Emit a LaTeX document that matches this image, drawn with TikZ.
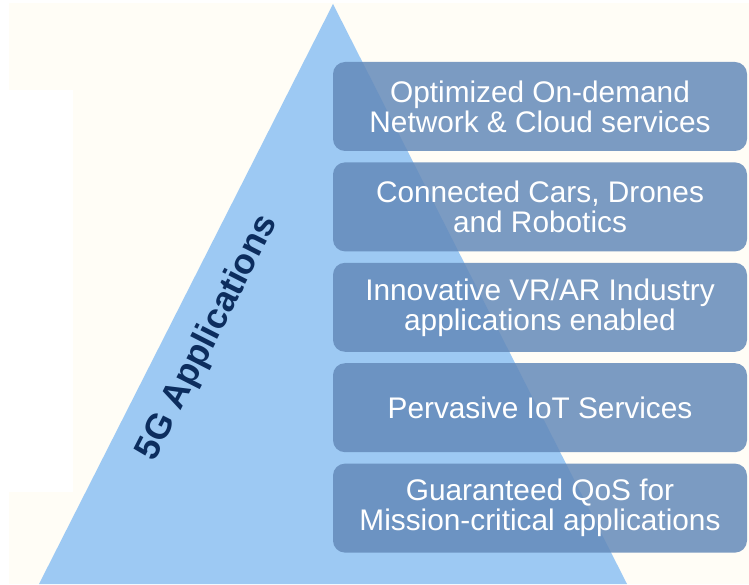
\documentclass[tikz,border=0pt]{standalone}
\usepackage{fontspec}
\setmainfont{Liberation Sans}
\usetikzlibrary{positioning}

\definecolor{paper}{RGB}{255,253,246}
\definecolor{pyramid}{RGB}{157,201,243}
\definecolor{tierblue}{RGB}{100,138,186}
\definecolor{navy}{RGB}{12,45,94}

\tikzset{
    appbox/.style = {fill=tierblue, fill opacity=0.85, text opacity=1,
        text=white, rounded corners=12pt, minimum width=414pt,
        minimum height=89pt, inner sep=0pt, align=center,
        font=\fontsize{29.8}{30}\selectfont}
}

\begin{document}
\begin{tikzpicture}[x=1pt, y=1pt, node distance = 11pt]
        \useasboundingbox (0,0) rectangle (749,584);
        % background
        \fill [white] (0,0) rectangle (749,584);
        \fill [paper] (9,0) rectangle (749,581);
        \fill [white] (9,92) rectangle (73,494);

        % pyramid
        \fill [pyramid] (39,0) -- (333,580) -- (627,0) -- cycle;
        \node [rotate=63, text=navy, font=\bfseries\fontsize{35.5}{36}\selectfont]
            (title) at (208,246) {5G Applications};

        \node [appbox] (cloud) at (540,477.5)
            {Optimized On-demand\\Network \& Cloud services};
        \node [appbox, below = of cloud] (cars)
            {Connected Cars, Drones\\and Robotics};
        \node [appbox, below = of cars] (vrar)
            {Innovative VR/AR Industry\\applications enabled};
        \node [appbox, below = of vrar] (iot) {Pervasive IoT Services};
        \node [appbox, below = of iot] (qos)
            {Guaranteed QoS for\\Mission-critical applications};
    \end{tikzpicture}
\end{document}
